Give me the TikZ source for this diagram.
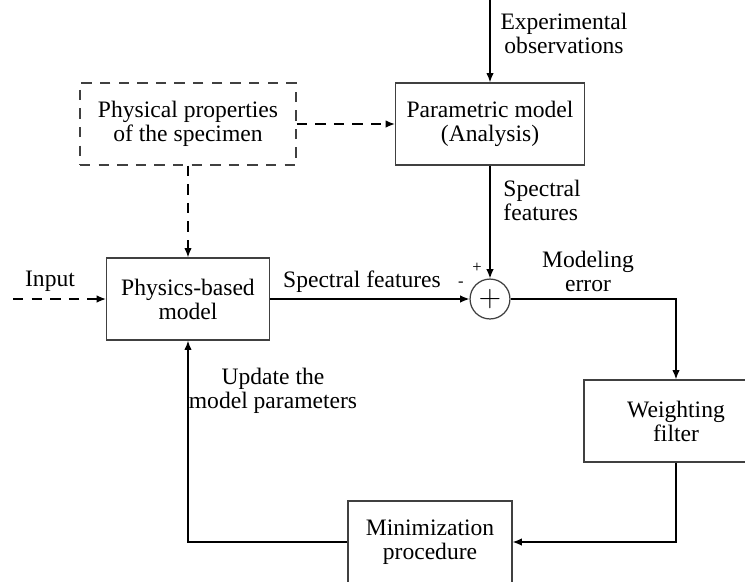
\documentclass[tikz,border=0pt]{standalone}
\usepackage{fontspec}
\setmainfont{Liberation Serif}
\usepackage{tikz}
\usetikzlibrary{arrows.meta,positioning,calc}

\begin{document}
\begin{tikzpicture}[x=0.017cm,y=-0.017cm,>={Latex[length=4.5pt,width=3.6pt]},
  every node/.style={font=\fontsize{11.4}{11.6}\selectfont},
  block/.style={draw=black!75,line width=0.6pt,align=center,minimum height=39.7pt,inner sep=3pt},
  arrow/.style={->,line width=0.6pt},
  dasharrow/.style={->,line width=0.6pt,dash pattern=on 5pt off 4pt},
  lbl/.style={align=center,inner sep=1pt}]
\useasboundingbox (0,0) rectangle (745,581);
% blocks
\node[block,dash pattern=on 5pt off 4pt,minimum width=104.5pt] (prop) at (188,124) {Physical properties\\of the specimen};
\node[block,minimum width=91.4pt] (param) at (490,124) {Parametric model\\(Analysis)};
\node[block,minimum width=78.8pt] (phys) at (188,299) {Physics-based\\model};
\node[draw=black!75,line width=0.6pt,circle,minimum size=19.3pt,inner sep=0pt,font=\Large] (sum) at (490,299) {$+$};
\node[block,minimum width=89pt] (filt) at (676,421) {Weighting\\filter};
\node[block,minimum width=79.3pt] (mini) at (430,542) {Minimization\\procedure};
\coordinate (obs) at (490,0);
\coordinate (in) at (13,299);
% labels
\node[lbl] (tobs) at (564,33) {Experimental\\observations};
\node[lbl,align=left,anchor=west] (tspec) at (501,200) {Spectral\\features};
\node[lbl] (tspec2) at (362,282) {Spectral features};
\node[lbl] (terr) at (588,271) {Modeling\\error};
\node[lbl] (tin) at (50,281) {Input};
\node[lbl] (tupd) at (273,391) {Update the\\model parameters};
\node[font=\footnotesize] (plus) at (477,268) {+};
\node[font=\footnotesize] (minus) at (461,284) {-};
% connectors
\draw[arrow] (obs) -- (param);
\draw[arrow] (param) -- (sum);
\draw[arrow] (phys) -- (sum);
\draw[arrow] (sum) -| (filt);
\draw[arrow] (filt.south) |- (mini.east);
\draw[arrow] (mini.west) -| (phys.south);
\draw[dasharrow] (in) -- (phys);
\draw[dasharrow] (prop) -- (param);
\draw[dasharrow] (prop) -- (phys);
\end{tikzpicture}
\end{document}
